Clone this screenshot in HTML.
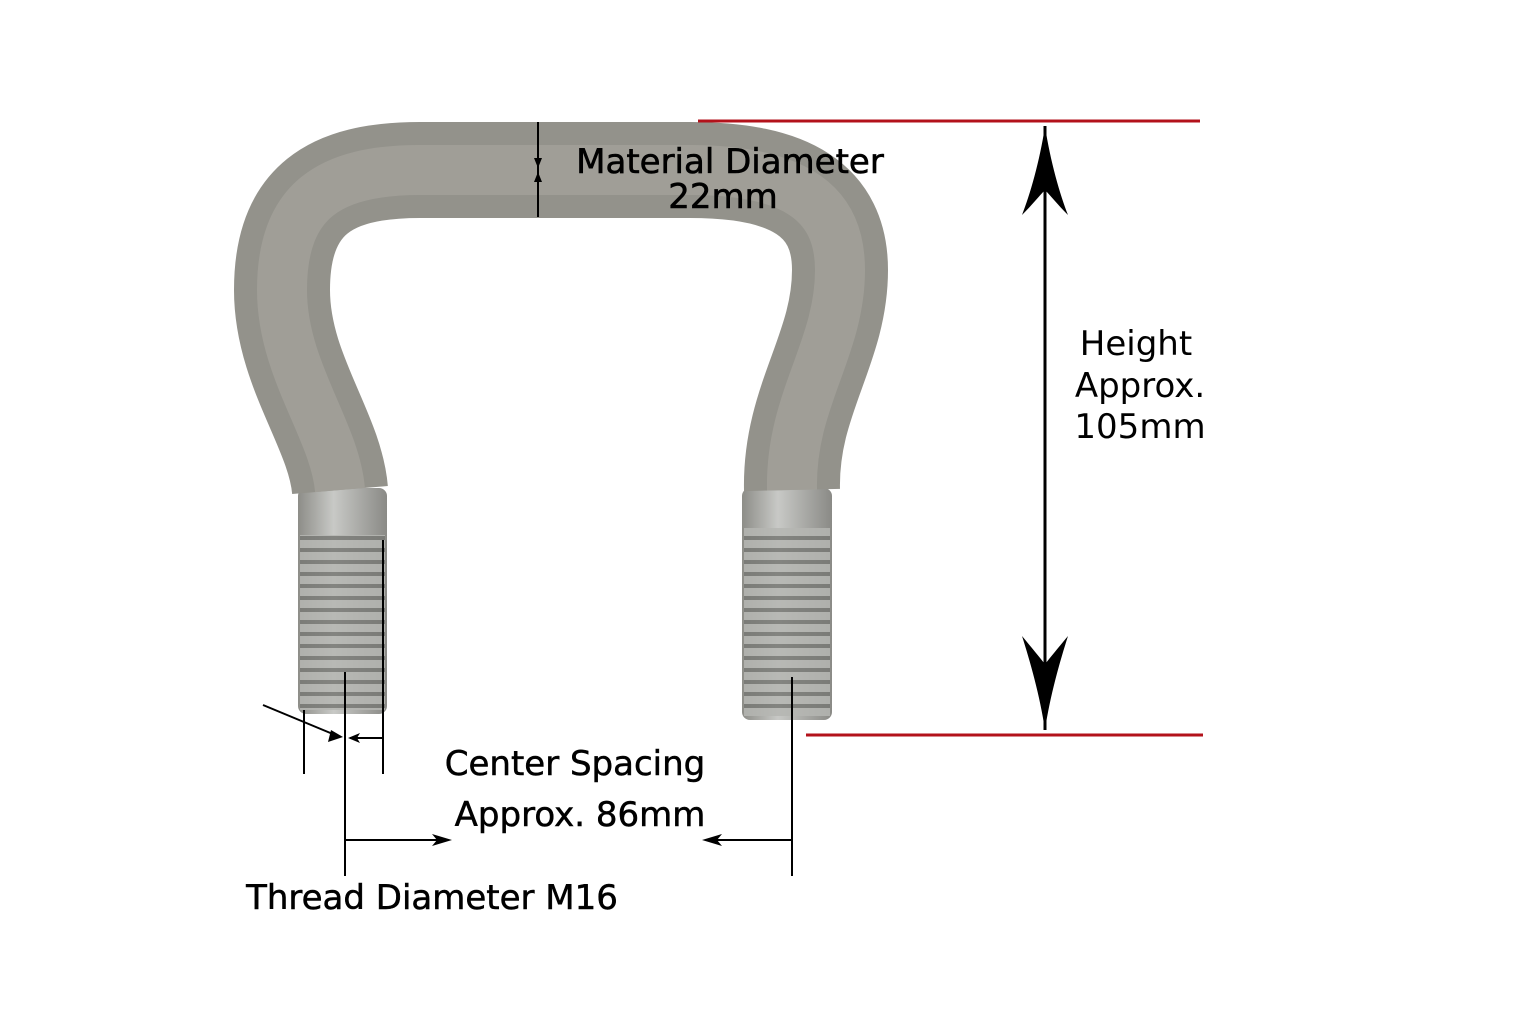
<!DOCTYPE html>
<html><head><meta charset="utf-8"><style>
html,body{margin:0;padding:0;background:#fff;}
svg{display:block}
text{font-family:"DejaVu Sans","Liberation Sans",sans-serif;fill:#000}
</style></head><body>
<svg width="1536" height="1024" viewBox="0 0 1536 1024" xmlns="http://www.w3.org/2000/svg">
<defs>
<linearGradient id="sh" x1="0" x2="1" y1="0" y2="0">
<stop offset="0" stop-color="#8d8d88"/><stop offset="0.4" stop-color="#c8c9c6"/><stop offset="1" stop-color="#8a8a86"/>
</linearGradient>
<pattern id="thr" width="10" height="12" patternUnits="userSpaceOnUse">
<rect width="10" height="12" fill="#b5b6b2"/><rect y="8" width="10" height="4" fill="#777874"/>
</pattern>
</defs>
<rect x="298" y="488" width="89" height="226" rx="8" fill="url(#sh)"/>
<rect x="300" y="535" width="85" height="175" fill="url(#thr)" opacity="0.85"/>
<rect x="742" y="488" width="90" height="232" rx="8" fill="url(#sh)"/>
<rect x="744" y="528" width="86" height="188" fill="url(#thr)" opacity="0.85"/>
<path d="M340 490 C335 430 282 370 282 290 C282 200 330 170 420 170 L690 170 C790 170 840 200 840 270 C840 350 790 400 792 490" fill="none" stroke="#93928b" stroke-width="96" stroke-linejoin="round"/>
<path d="M340 490 C335 430 282 370 282 290 C282 200 330 170 420 170 L690 170 C790 170 840 200 840 270 C840 350 790 400 792 490" fill="none" stroke="#a5a49d" stroke-width="50" opacity="0.7"/>
<line x1="698" y1="121" x2="1200" y2="121" stroke="#b3121b" stroke-width="3"/>
<line x1="806" y1="735" x2="1203" y2="735" stroke="#b3121b" stroke-width="3"/>
<line x1="1045" y1="126" x2="1045" y2="730" stroke="#000" stroke-width="3"/>
<path d="M1045 126 C1040 160 1030 195 1022 215 C1032 205 1040 195 1045 190 C1050 195 1058 205 1068 215 C1060 195 1050 160 1045 126Z" fill="#000"/>
<path d="M1045 730 C1040 696 1030 661 1022 636 C1032 648 1040 658 1045 664 C1050 658 1058 648 1068 636 C1060 661 1050 696 1045 730Z" fill="#000"/>
<text x="1136" y="355" font-size="34" text-anchor="middle">Height</text>
<text x="1140" y="397" font-size="34" text-anchor="middle">Approx.</text>
<text x="1140" y="438" font-size="34" text-anchor="middle">105mm</text>
<line x1="538" y1="122" x2="538" y2="217" stroke="#000" stroke-width="2"/>
<path d="M534 158 L538 168 L542 158Z M534 182 L538 172 L542 182Z" fill="#000"/>
<text x="730" y="173" font-size="34" text-anchor="middle" stroke="#000" stroke-width="0.6">Material Diameter</text>
<text x="723" y="208" font-size="34" text-anchor="middle" stroke="#000" stroke-width="0.6">22mm</text>
<g stroke="#000" stroke-width="2" fill="none">
<line x1="304" y1="710" x2="304" y2="774"/>
<line x1="383" y1="540" x2="383" y2="774"/>
<line x1="345" y1="672" x2="345" y2="876"/>
<line x1="263" y1="705" x2="340" y2="737"/>
<line x1="350" y1="738" x2="383" y2="738"/>
<line x1="345" y1="840" x2="445" y2="840"/>
<line x1="708" y1="840" x2="792" y2="840"/>
<line x1="792" y1="677" x2="792" y2="876"/>
</g>
<path d="M343 737 L328 742 L331 730Z" fill="#000"/>
<path d="M348 738 L360 733 L357 738 L360 743Z" fill="#000"/>
<path d="M452 840 L432 834 L437 840 L432 846Z" fill="#000"/>
<path d="M702 840 L722 834 L717 840 L722 846Z" fill="#000"/>
<g stroke="#000" stroke-width="0.5">
<text x="575" y="775" font-size="34" text-anchor="middle">Center Spacing</text>
<text x="580" y="826" font-size="34" text-anchor="middle">Approx. 86mm</text>
<text x="432" y="909" font-size="34" text-anchor="middle">Thread Diameter M16</text>
</g>
</svg>
</body></html>
